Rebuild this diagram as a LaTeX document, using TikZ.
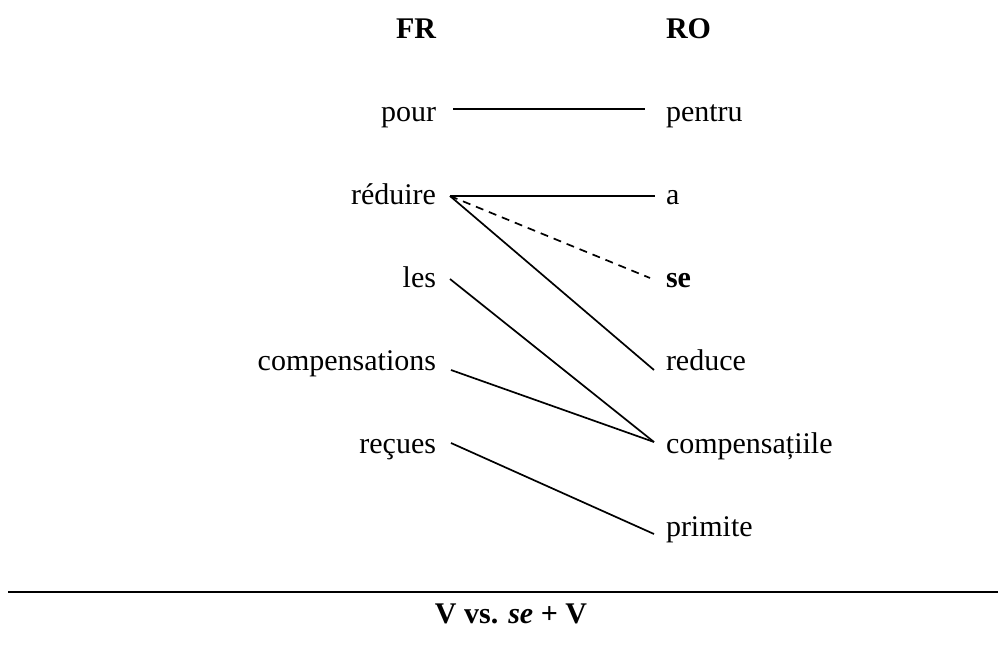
\documentclass[tikz,border=0pt]{standalone}
\usepackage{fontspec}
\setmainfont{Liberation Serif}
\usetikzlibrary{calc}
\begin{document}
\begin{tikzpicture}[x=1pt,y=-1pt,
  every node/.style={inner sep=0pt,outer sep=0pt,font=\fontsize{30}{36}\selectfont},
  lw/.style={anchor=base east},
  rw/.style={anchor=base west},
  hd/.style={font=\fontsize{30}{36}\selectfont\bfseries},
  link/.style={line width=1.7pt},
  dlink/.style={line width=1.7pt,dash pattern=on 8pt off 6pt}]
\useasboundingbox (0,0) rectangle (998,669);
% headers
\node[lw,hd] (fr) at (436,39) {FR};
\node[rw,hd] (ro) at (666,39) {RO};
% left column
\node[lw] (pour) at (436,121) {pour};
\node[lw] (reduire) at (436,204) {réduire};
\node[lw] (les) at (436,287) {les};
\node[lw] (compFR) at (436,370) {compensations};
\node[lw] (recues) at (436,453) {reçues};
% right column
\node[rw] (pentru) at (666,121) {pentru};
\node[rw] (a) at (666,204) {a};
\node[rw] (se) at (666,287) {\textbf{se}};
\node[rw] (reduce) at (666,370) {reduce};
\node[rw] (compRO) at (666,453) {compensațiile};
\node[rw] (primite) at (666,536) {primite};
% connectors
\draw[link] ($(pour.base east)+(17,-12)$) -- ($(pentru.base west)+(-21,-12)$);
\draw[link] ($(reduire.base east)+(14,-8)$) -- ($(a.base west)+(-11,-8)$);
\draw[dlink] ($(reduire.base east)+(14,-8)$) -- ($(se.base west)+(-16,-9)$);
\draw[link] ($(reduire.base east)+(14,-8)$) -- ($(reduce.base west)+(-12,0)$);
\draw[link] ($(les.base east)+(14,-8)$) -- ($(compRO.base west)+(-12,-11)$);
\draw[link] ($(compFR.base east)+(15,0)$) -- ($(compRO.base west)+(-12,-11)$);
\draw[link] ($(recues.base east)+(15,-10)$) -- ($(primite.base west)+(-12,-2)$);
% bottom rule and caption
\coordinate (ruleL) at (8,592);
\coordinate (ruleR) at (998,592);
\draw[line width=1.7pt] (ruleL) -- (ruleR);
\node[anchor=base,hd] (cap) at (511,623) {V vs. \textit{se} + V};
\end{tikzpicture}
\end{document}
